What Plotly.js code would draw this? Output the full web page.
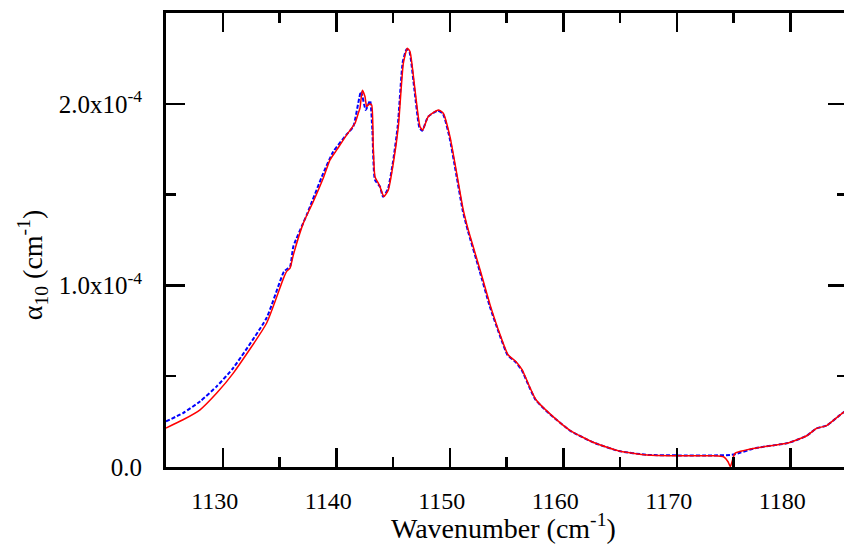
<!DOCTYPE html>
<html>
<head>
<meta charset="utf-8">
<script src="https://cdn.plot.ly/plotly-3.0.1.min.js"></script>
<style>
html,body{margin:0;padding:0;background:#fff;overflow:hidden;}
#chart{width:850px;height:546px;}
</style>
</head>
<body>
<div id="chart"></div>
<script>
// Wavenumber (cm^-1) and absorption coefficient (units of 1e-4 cm^-1)
const redX = [1125.0,1126.5,1128.0,1129.47,1130.93,1133.87,1135.33,1135.63,1135.93,1136.22,1137.1,1137.98,1138.86,1139.45,1140.04,1140.92,1141.65,1141.94,1142.09,1142.30,1142.53,1142.68,1142.91,1143.12,1143.26,1143.41,1143.70,1143.85,1144.20,1144.59,1145.03,1145.47,1145.91,1146.26,1146.50,1146.94,1147.38,1147.62,1148.11,1148.99,1149.43,1150.02,1150.61,1151.19,1151.63,1152.67,1153.55,1154.43,1155.13,1155.84,1156.37,1157.07,1157.6,1158.81,1160.66,1162.80,1164.93,1167.38,1170.04,1173.3,1174.16,1174.52,1174.72,1174.87,1175.13,1177.04,1179.8,1181.45,1182.3,1183.2,1184.4,1185.0];
const redY = [0.215,0.260,0.315,0.407,0.517,0.793,1.036,1.077,1.095,1.168,1.343,1.462,1.591,1.691,1.746,1.829,1.893,1.948,1.976,2.075,2.040,1.985,1.999,1.994,1.764,1.599,1.563,1.544,1.489,1.526,1.673,1.874,2.223,2.306,2.287,2.076,1.874,1.856,1.930,1.966,1.948,1.819,1.618,1.416,1.306,1.086,0.894,0.729,0.618,0.580,0.536,0.437,0.370,0.294,0.199,0.132,0.088,0.066,0.062,0.062,0.055,0.029,0.002,0.029,0.075,0.105,0.132,0.172,0.212,0.228,0.287,0.315];

const blueX = [1125.0,1126.5,1128.0,1129.47,1130.93,1133.87,1135.4,1135.93,1136.22,1137.4,1138.86,1139.74,1140.9,1141.50,1142.18,1142.60,1142.98,1143.18,1143.41,1143.85,1144.12,1144.55,1145.0,1145.42,1145.86,1146.2,1146.45,1146.9,1147.33,1147.58,1148.08,1148.95,1149.4,1149.98,1150.57,1151.15,1151.6,1152.63,1153.5,1154.4,1155.1,1155.8,1156.34,1157.04,1157.57,1158.78,1160.63,1162.78,1164.9,1167.35,1170.0,1173.3,1174.7,1175.1,1177.0,1179.8,1181.45,1182.3,1183.2,1184.4,1185.0];
const blueY = [0.251,0.297,0.361,0.444,0.546,0.822,1.076,1.104,1.214,1.389,1.618,1.737,1.83,1.874,2.067,1.966,2.018,1.856,1.581,1.544,1.488,1.530,1.680,1.880,2.230,2.300,2.285,2.070,1.868,1.852,1.928,1.962,1.945,1.815,1.612,1.410,1.300,1.080,0.890,0.726,0.616,0.578,0.534,0.436,0.369,0.293,0.199,0.132,0.088,0.067,0.064,0.064,0.066,0.070,0.105,0.132,0.172,0.212,0.228,0.287,0.315];

const yTickVals = [0, 1e-4, 2e-4];
const yTickText = ['0.0', '1.0x10<sup>-4</sup>', '2.0x10<sup>-4</sup>'];

const scale = v => v.map(a => a * 1e-4);
const FONT = 'Liberation Serif, Times New Roman, serif';

const traces = [
  {x: blueX, y: scale(blueY), type: 'scatter', mode: 'lines',
   line: {color: '#0000ff', width: 2, dash: '4px,2px', shape: 'spline', smoothing: 0.5}, hoverinfo: 'skip'},
  {x: redX, y: scale(redY), type: 'scatter', mode: 'lines',
   line: {color: '#ff0000', width: 1.5, shape: 'spline', smoothing: 0.5}, hoverinfo: 'skip'}
];

const layout = {
  width: 850, height: 546,
  margin: {l: 166, r: 3, t: 13, b: 79, pad: 0},
  paper_bgcolor: '#fff', plot_bgcolor: '#fff',
  showlegend: false,
  font: {family: FONT, size: 24, color: '#000'},
  xaxis: {
    range: [1125, 1185], tick0: 1130, dtick: 10,
    ticks: 'inside', ticklen: 19, tickwidth: 2.5, tickcolor: '#000',
    minor: {dtick: 5, ticks: 'inside', ticklen: 10, tickwidth: 2.5, tickcolor: '#000'},
    showline: true, linewidth: 3, linecolor: '#000', mirror: 'ticks',
    showgrid: false, zeroline: false,
    ticklabelshift: -8, ticklabelstandoff: 10,
    tickfont: {family: FONT, size: 24, color: '#000'}
  },
  yaxis: {
    range: [0, 2.5e-4],
    tickmode: 'array', tickvals: yTickVals, ticktext: yTickText,
    ticks: 'inside', ticklen: 19, tickwidth: 2.5, tickcolor: '#000',
    minor: {dtick: 0.5e-4, ticks: 'inside', ticklen: 10, tickwidth: 2.5, tickcolor: '#000'},
    showline: true, linewidth: 3, linecolor: '#000', mirror: 'ticks',
    showgrid: false, zeroline: false,
    ticklabelstandoff: 16,
    tickfont: {family: FONT, size: 25, color: '#000'}
  },
  annotations: [
    {text: 'Wavenumber (cm<sup>-1</sup>)', xref: 'paper', yref: 'paper',
     x: 0.4955, y: -0.131, xanchor: 'center', yanchor: 'middle', showarrow: false,
     font: {family: FONT, size: 28, color: '#000'}},
    {text: 'α<sub>10</sub> (cm<sup>-1</sup>)', xref: 'paper', yref: 'paper',
     x: -0.195, y: 0.445, xanchor: 'center', yanchor: 'middle', showarrow: false,
     textangle: -90, font: {family: FONT, size: 28, color: '#000'}}
  ]
};

Plotly.newPlot('chart', traces, layout, {displayModeBar: false, staticPlot: true});
</script>
</body>
</html>
